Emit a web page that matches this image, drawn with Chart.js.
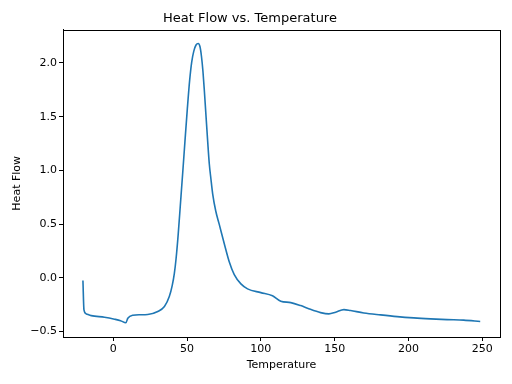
<!DOCTYPE html>
<html>
<head>
<meta charset="utf-8">
<script src="https://cdn.jsdelivr.net/npm/chart.js@4"></script>
<style>
  html, body { margin: 0; padding: 0; background: #fff; }
  #wrap { width: 512px; height: 384px; }
</style>
</head>
<body>
<div id="wrap"><canvas id="myChart" width="512" height="384"></canvas></div>
<script>
// Temperature readings and the heat flow
var temperature = [-20.5, -19.8, -18.2, -14.9, -5.9, 0.9, 5, 8.6, 9.9, 13.3, 18, 23.4, 30.2, 34.7, 38.0,
  40.0, 41.4, 42.6, 44.0, 45.5, 47.1, 48.6, 50.2, 51.8, 53.2, 54.6, 56.1, 57.6, 58.8, 59.8, 60.8,
  61.7, 62.8, 64.0, 65.1, 66.2, 67.4, 69.5, 71.8, 75.2, 78.6, 82.0, 86.5, 91.0, 100, 107.9, 113.5,
  120.3, 127, 131.6, 140.5, 146.1, 150.7, 156.3, 160.8, 169.8, 181.1, 192.4, 203.6, 214.9, 226.1,
  237.4, 248.6];
var heatFlow = [-0.025, -0.298, -0.335, -0.351, -0.366, -0.384, -0.398, -0.418, -0.375, -0.347, -0.343, -0.341, -0.313, -0.267, -0.174,
  -0.07, 0.04, 0.18, 0.40, 0.68, 0.98, 1.27, 1.57, 1.84, 2.01, 2.11, 2.167, 2.18, 2.15, 2.06, 1.92,
  1.75, 1.52, 1.27, 1.06, 0.92, 0.78, 0.62, 0.50, 0.32, 0.15, 0.03, -0.056, -0.102, -0.137, -0.167, -0.217,
  -0.23, -0.258, -0.282, -0.323, -0.335, -0.319, -0.295, -0.304, -0.326, -0.344, -0.36, -0.372, -0.381, -0.388,
  -0.393, -0.406];

var xTicks = [0, 50, 100, 150, 200, 250];
var yTicks = [-0.5, 0.0, 0.5, 1.0, 1.5, 2.0];

var points = temperature.map(function (t, i) { return { x: t, y: heatFlow[i] }; });

// draws the top and right spines like the matplotlib box
var frame = {
  id: 'frame',
  afterDraw: function (chart) {
    var a = chart.chartArea, c = chart.ctx;
    c.save();
    c.strokeStyle = '#000';
    c.lineWidth = 1;
    c.strokeRect(Math.round(a.left) + 0.5, Math.round(a.top) + 0.5,
      Math.round(a.right - a.left), Math.round(a.bottom - a.top));
    c.restore();
  }
};

var ctx = document.getElementById('myChart').getContext('2d');
var chart = new Chart(ctx, {
  type: 'scatter',
  data: {
    datasets: [{
      label: 'Heat Flow',
      data: points,
      showLine: true,
      borderColor: '#1f77b4',
      backgroundColor: '#1f77b4',
      borderWidth: 1.6,
      pointRadius: 0,
      cubicInterpolationMode: 'monotone'
    }]
  },
  plugins: [frame],
  options: {
    responsive: false,
    animation: false,
    layout: { padding: { left: 0, right: 12, top: 0, bottom: 0 } },
    plugins: {
      legend: { display: false },
      tooltip: { enabled: false },
      title: {
        display: true,
        text: 'Heat Flow vs. Temperature',
        color: '#000',
        font: { family: 'DejaVu Sans', size: 13, weight: 'normal' },
        padding: { top: 11, bottom: 3 }
      }
    },
    scales: {
      x: {
        type: 'linear',
        min: -34,
        max: 262,
        afterBuildTicks: function (s) { s.ticks = xTicks.map(function (v) { return { value: v }; }); },
        afterFit: function (s) { s.height = 47; },
        grid: { drawOnChartArea: false, drawTicks: true, tickLength: 4, color: '#000' },
        border: { display: true, color: '#000' },
        ticks: { color: '#000', padding: 2, maxRotation: 0, font: { family: 'DejaVu Sans', size: 11 } },
        title: { display: true, text: 'Temperature', color: '#000', padding: { top: 0, bottom: 12 },
          font: { family: 'DejaVu Sans', size: 11 } }
      },
      y: {
        min: -0.55,
        max: 2.31,
        afterBuildTicks: function (s) { s.ticks = yTicks.map(function (v) { return { value: v }; }); },
        afterFit: function (s) { s.width = 63; },
        grid: { drawOnChartArea: false, drawTicks: true, tickLength: 4, color: '#000' },
        border: { display: true, color: '#000' },
        ticks: {
          color: '#000', padding: 2, font: { family: 'DejaVu Sans', size: 11 },
          callback: function (v) { return v < 0 ? '\u2212' + Math.abs(v).toFixed(1) : v.toFixed(1); }
        },
        title: { display: true, text: 'Heat Flow', color: '#000', padding: { top: 11, bottom: 0 },
          font: { family: 'DejaVu Sans', size: 11 } }
      }
    }
  }
});
</script>
</body>
</html>
